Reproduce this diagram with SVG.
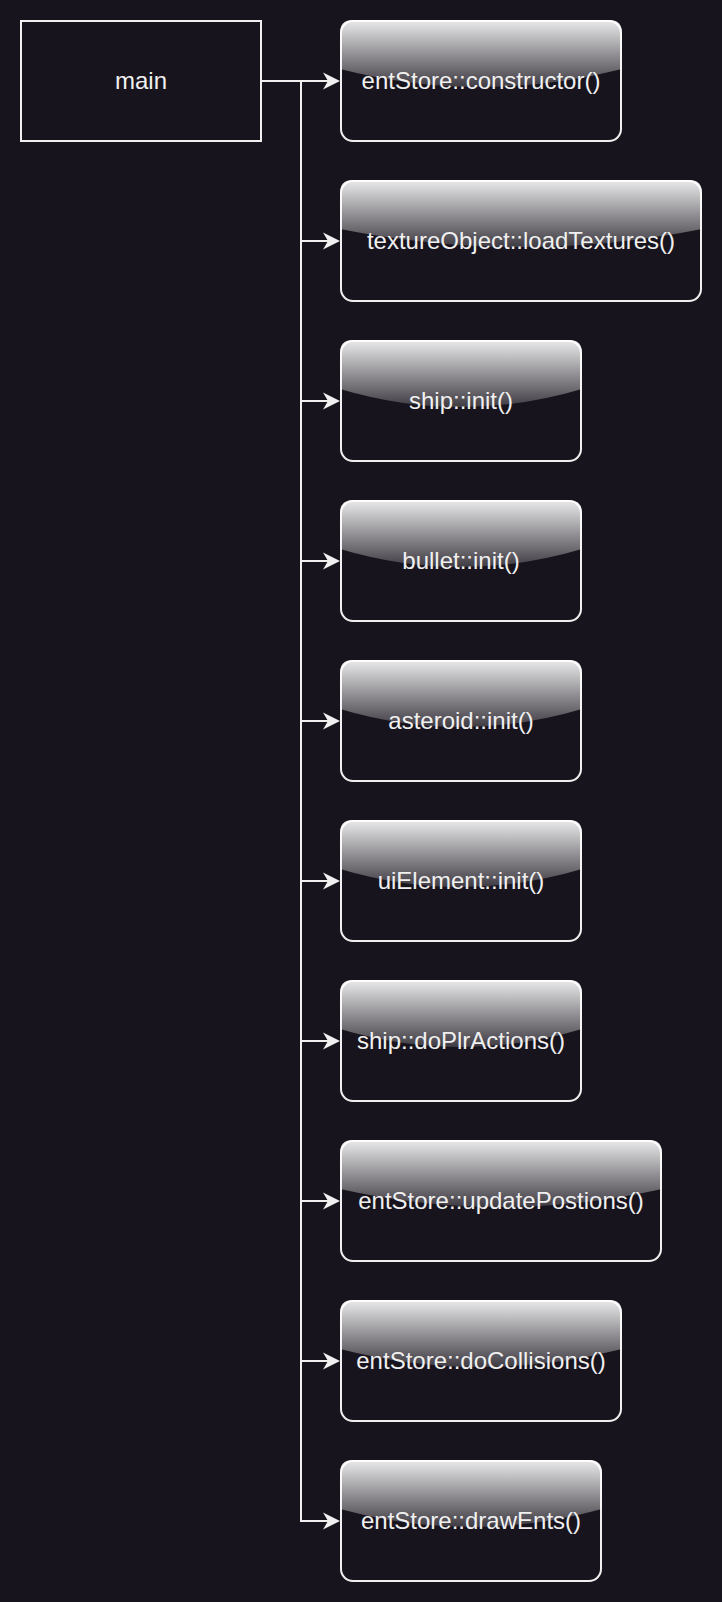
<svg xmlns="http://www.w3.org/2000/svg" width="722" height="1602" viewBox="0 0 722 1602">
<style>
.box{fill:#18141d;stroke:#f0f0f0;stroke-width:2}
.glass{fill:url(#gl);stroke:none}
.lbl{font-family:"Liberation Sans",Arial,sans-serif;font-size:24px;fill:#f0f0f0;text-anchor:middle}
.edge{fill:none;stroke:#f0f0f0;stroke-width:2}
</style>
<defs>
<linearGradient id="gl" gradientUnits="userSpaceOnUse" x1="0" y1="0" x2="0" y2="72">
<stop offset="0" stop-color="#ffffff" stop-opacity="0.9"/>
<stop offset="1" stop-color="#ffffff" stop-opacity="0.1"/>
</linearGradient>
<marker id="arr" markerUnits="userSpaceOnUse" markerWidth="18" markerHeight="18" refX="5" refY="8.5" orient="auto" viewBox="0 0 18 17">
<path d="M0,0 L17,8.5 L0,17 L5,8.5 Z" fill="#f0f0f0"/>
</marker>
</defs>
<rect width="722" height="1602" fill="#18141d"/>
<g id="connectors">
<path class="edge" marker-end="url(#arr)" d="M261,81 L328,81"/>
<path class="edge" marker-end="url(#arr)" d="M261,81 L301,81 L301,241 L328,241"/>
<path class="edge" marker-end="url(#arr)" d="M261,81 L301,81 L301,401 L328,401"/>
<path class="edge" marker-end="url(#arr)" d="M261,81 L301,81 L301,561 L328,561"/>
<path class="edge" marker-end="url(#arr)" d="M261,81 L301,81 L301,721 L328,721"/>
<path class="edge" marker-end="url(#arr)" d="M261,81 L301,81 L301,881 L328,881"/>
<path class="edge" marker-end="url(#arr)" d="M261,81 L301,81 L301,1041 L328,1041"/>
<path class="edge" marker-end="url(#arr)" d="M261,81 L301,81 L301,1201 L328,1201"/>
<path class="edge" marker-end="url(#arr)" d="M261,81 L301,81 L301,1361 L328,1361"/>
<path class="edge" marker-end="url(#arr)" d="M261,81 L301,81 L301,1521 L328,1521"/>
</g>
<g id="main">
<rect class="box" x="21" y="21" width="240" height="120"/>
<text class="lbl" x="141" y="89">main</text>
</g>
<g id="n1" transform="translate(341,21)">
<rect class="box" width="280" height="120" rx="12"/>
<path class="glass" d="M-1,12 Q-1,-1 12,-1 L268,-1 Q281,-1 281,12 L281,48 Q140,84 -1,48 Z"/>
<text class="lbl" x="140" y="68">entStore::constructor()</text>
</g>
<g id="n2" transform="translate(341,181)">
<rect class="box" width="360" height="120" rx="12"/>
<path class="glass" d="M-1,12 Q-1,-1 12,-1 L348,-1 Q361,-1 361,12 L361,48 Q180,84 -1,48 Z"/>
<text class="lbl" x="180" y="68">textureObject::loadTextures()</text>
</g>
<g id="n3" transform="translate(341,341)">
<rect class="box" width="240" height="120" rx="12"/>
<path class="glass" d="M-1,12 Q-1,-1 12,-1 L228,-1 Q241,-1 241,12 L241,48 Q120,84 -1,48 Z"/>
<text class="lbl" x="120" y="68">ship::init()</text>
</g>
<g id="n4" transform="translate(341,501)">
<rect class="box" width="240" height="120" rx="12"/>
<path class="glass" d="M-1,12 Q-1,-1 12,-1 L228,-1 Q241,-1 241,12 L241,48 Q120,84 -1,48 Z"/>
<text class="lbl" x="120" y="68">bullet::init()</text>
</g>
<g id="n5" transform="translate(341,661)">
<rect class="box" width="240" height="120" rx="12"/>
<path class="glass" d="M-1,12 Q-1,-1 12,-1 L228,-1 Q241,-1 241,12 L241,48 Q120,84 -1,48 Z"/>
<text class="lbl" x="120" y="68">asteroid::init()</text>
</g>
<g id="n6" transform="translate(341,821)">
<rect class="box" width="240" height="120" rx="12"/>
<path class="glass" d="M-1,12 Q-1,-1 12,-1 L228,-1 Q241,-1 241,12 L241,48 Q120,84 -1,48 Z"/>
<text class="lbl" x="120" y="68">uiElement::init()</text>
</g>
<g id="n7" transform="translate(341,981)">
<rect class="box" width="240" height="120" rx="12"/>
<path class="glass" d="M-1,12 Q-1,-1 12,-1 L228,-1 Q241,-1 241,12 L241,48 Q120,84 -1,48 Z"/>
<text class="lbl" x="120" y="68">ship::doPlrActions()</text>
</g>
<g id="n8" transform="translate(341,1141)">
<rect class="box" width="320" height="120" rx="12"/>
<path class="glass" d="M-1,12 Q-1,-1 12,-1 L308,-1 Q321,-1 321,12 L321,48 Q160,84 -1,48 Z"/>
<text class="lbl" x="160" y="68">entStore::updatePostions()</text>
</g>
<g id="n9" transform="translate(341,1301)">
<rect class="box" width="280" height="120" rx="12"/>
<path class="glass" d="M-1,12 Q-1,-1 12,-1 L268,-1 Q281,-1 281,12 L281,48 Q140,84 -1,48 Z"/>
<text class="lbl" x="140" y="68">entStore::doCollisions()</text>
</g>
<g id="n10" transform="translate(341,1461)">
<rect class="box" width="260" height="120" rx="12"/>
<path class="glass" d="M-1,12 Q-1,-1 12,-1 L248,-1 Q261,-1 261,12 L261,48 Q130,84 -1,48 Z"/>
<text class="lbl" x="130" y="68">entStore::drawEnts()</text>
</g>
</svg>
